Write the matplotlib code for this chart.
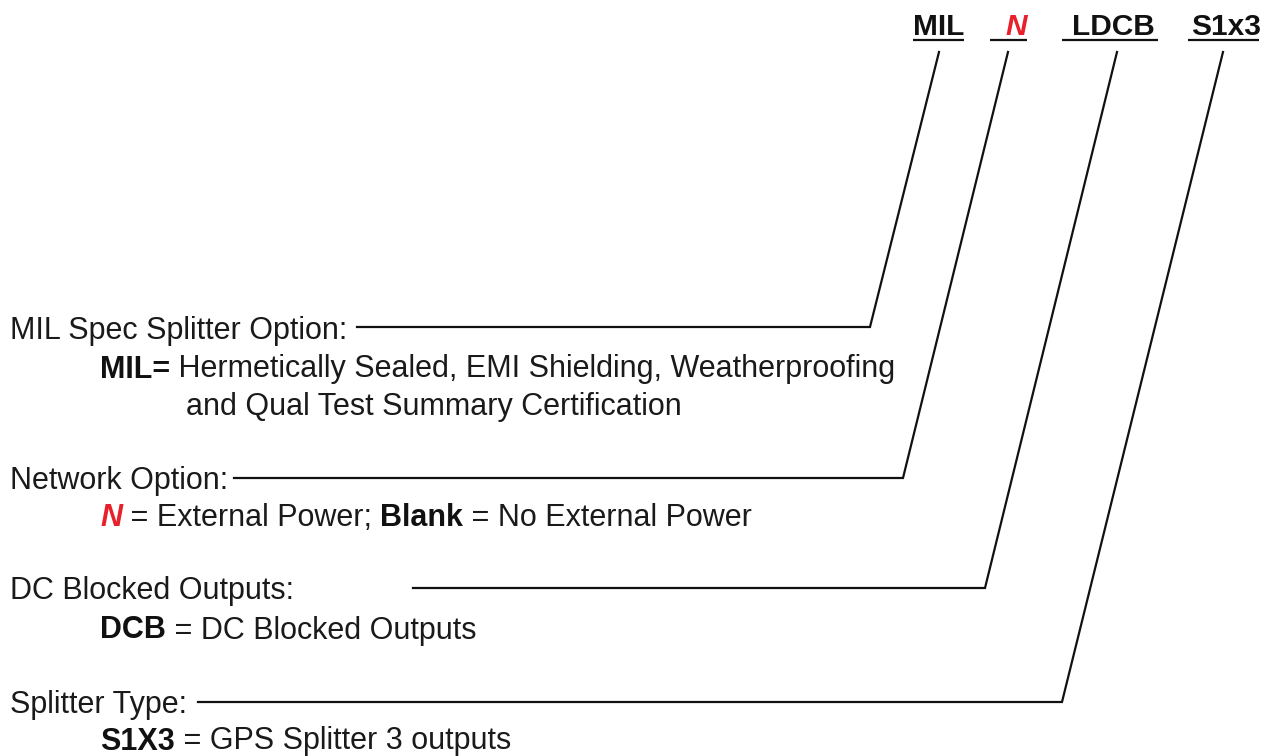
import matplotlib
matplotlib.use("Agg")
import matplotlib.pyplot as plt

# part number codes shown across the top
codes = ["MIL", "N", "LDCB", "S1x3"]
code_colors = ["#111111", "#e8202a", "#111111", "#111111"]
code_italic = [False, True, False, False]

# option titles and their description lines (text, bold, color, italic)
titles = ["MIL Spec Splitter Option:", "Network Option:", "DC Blocked Outputs:", "Splitter Type:"]
descriptions = [
    [[("MIL=", True, "#111111", False), (" Hermetically Sealed, EMI Shielding, Weatherproofing", False, "#1a1a1a", False)],
     [("and Qual Test Summary Certification", False, "#1a1a1a", False)]],
    [[("N", True, "#e8202a", True), (" = External Power; ", False, "#1a1a1a", False),
      ("Blank", True, "#111111", False), (" = No External Power", False, "#1a1a1a", False)]],
    [[("DCB", True, "#111111", False), (" = DC Blocked Outputs", False, "#1a1a1a", False)]],
    [[("S1X3", True, "#111111", False), (" = GPS Splitter 3 outputs", False, "#1a1a1a", False)]],
]

# geometry in pixels (figure is 1269 x 756)
code_x = [913, 1005, 1072, 1191]
ul_span = [(913, 964), (990, 1027), (1062, 1158), (1188, 1259)]
title_y = [327, 478, 588, 702]
desc_y = [[366, 403], [515], [627], [738]]
desc_x = [[100, 186], [100], [100], [100]]
line_start = [357, 234, 413, 198]
line_top = [(939, 52), (1008, 52), (1117, 52), (1223, 52)]
line_corner = [870, 903, 985, 1062]

W, H = 1269, 756
fig = plt.figure(figsize=(W / 100, H / 100), dpi=100)
ax = fig.add_axes([0, 0, 1, 1])
ax.set_xlim(0, W)
ax.set_ylim(H, 0)
ax.axis("off")
plt.rcParams["font.family"] = ["Liberation Sans", "DejaVu Sans"]

renderer = fig.canvas.get_renderer()
FS = 22.0


def rich(x, y, parts, size):
    for txt, bold, color, italic in parts:
        t = ax.text(x, y, txt, fontsize=size, color=color,
                    fontweight="bold" if bold else "normal",
                    fontstyle="italic" if italic else "normal",
                    va="center_baseline", ha="left")
        bb = t.get_window_extent(renderer)
        x = ax.transData.inverted().transform((bb.x1, 0))[0]


# header codes with underlines
for i in range(len(codes)):
    ax.text(code_x[i], 24, codes[i], fontsize=21.5, fontweight="bold",
            color=code_colors[i], fontstyle="italic" if code_italic[i] else "normal",
            va="center_baseline", ha="left")
    ax.plot(ul_span[i], [40, 40], color="#111111", lw=1.6, solid_capstyle="butt")

# titles, leader lines and descriptions
for i in range(len(titles)):
    ax.text(10, title_y[i], titles[i], fontsize=FS, color="#1a1a1a",
            va="center_baseline", ha="left")
    ax.plot([line_start[i], line_corner[i], line_top[i][0]],
            [title_y[i], title_y[i], line_top[i][1]],
            color="#111111", lw=1.6, solid_joinstyle="miter")
    for j, parts in enumerate(descriptions[i]):
        rich(desc_x[i][j], desc_y[i][j], parts, FS)

fig.savefig("out.png", dpi=100)
